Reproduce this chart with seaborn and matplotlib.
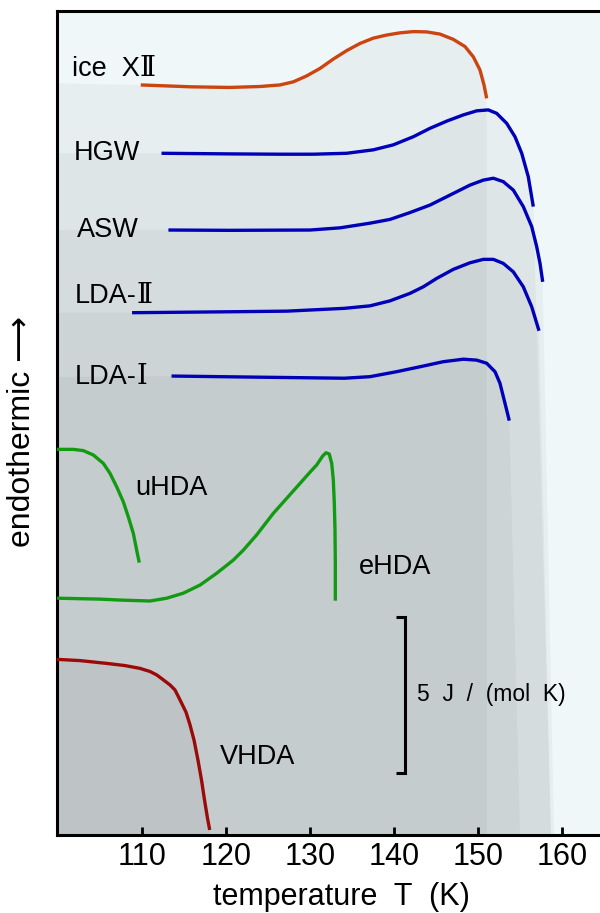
import matplotlib
matplotlib.use("Agg")
import matplotlib.pyplot as plt
import numpy as np
import pandas as pd
import seaborn as sns

# ---------------- data (T in K, signal in J/(mol K), curves offset vertically) ----------------
ice12_T = [109.89, 115.90, 120.46, 124.08, 126.46, 128.05, 129.64, 131.23, 132.81, 134.40,
           135.99, 137.57, 139.17, 140.75, 142.33, 143.93, 145.51, 147.10, 148.49, 149.48,
           150.27, 150.75, 151.07]
ice12_y = [24.04, 23.98, 23.96, 23.99, 24.04, 24.14, 24.33, 24.57, 24.87, 25.14,
           25.37, 25.54, 25.64, 25.71, 25.75, 25.74, 25.67, 25.50, 25.27, 24.94,
           24.52, 24.04, 23.61]

hgw_T = [112.36, 120.46, 126.46, 130.43, 134.40, 137.57, 139.95, 142.33, 144.32, 146.31,
         148.29, 149.88, 151.26, 152.26, 153.45, 154.44, 155.24, 156.02, 156.62]
hgw_y = [21.85, 21.83, 21.82, 21.82, 21.85, 21.96, 22.12, 22.38, 22.65, 22.88,
         23.08, 23.21, 23.24, 23.13, 22.81, 22.38, 21.85, 21.10, 20.14]

asw_T = [113.18, 120.46, 130.04, 133.61, 137.18, 139.56, 141.94, 144.32, 146.70, 149.08,
         150.67, 151.86, 153.05, 154.24, 155.43, 156.43, 157.02, 157.42, 157.74]
asw_y = [19.39, 19.38, 19.39, 19.46, 19.61, 19.73, 19.95, 20.19, 20.51, 20.83,
         20.99, 21.05, 20.94, 20.67, 20.14, 19.50, 18.86, 18.32, 17.73]

lda2_T = [108.85, 120.46, 127.30, 134.13, 137.18, 139.56, 141.94, 143.52, 145.12, 147.10,
          149.08, 150.67, 151.86, 153.05, 154.24, 155.43, 156.43, 157.30]
lda2_y = [16.74, 16.77, 16.79, 16.88, 16.96, 17.12, 17.36, 17.57, 17.84, 18.13,
          18.34, 18.45, 18.45, 18.32, 18.05, 17.57, 16.93, 16.16]

lda1_T = [113.55, 125.02, 134.13, 137.18, 140.36, 143.52, 145.90, 148.29, 149.88, 151.07,
          152.06, 152.65, 153.05, 153.45, 153.76]
lda1_y = [14.71, 14.67, 14.64, 14.69, 14.85, 15.03, 15.17, 15.25, 15.22, 15.12,
          14.85, 14.48, 14.05, 13.62, 13.28]

uhda_T = [99.92, 101.86, 103.05, 104.24, 105.43, 106.23, 107.02, 107.81, 108.40, 109.00,
          109.40, 109.71]
uhda_y = [12.36, 12.36, 12.32, 12.18, 11.91, 11.59, 11.16, 10.68, 10.20, 9.67,
          9.13, 8.73]

ehda_T = [99.92, 105.04, 107.42, 110.99, 112.98, 114.95, 116.94, 118.93, 120.90, 122.10,
          123.69, 125.67, 127.26, 128.85, 130.04, 130.83, 131.55, 131.94, 132.33, 132.62,
          132.81, 132.93, 133.01, 133.05, 133.05]
ehda_y = [7.59, 7.56, 7.53, 7.50, 7.59, 7.75, 8.01, 8.39, 8.81, 9.13,
          9.62, 10.31, 10.79, 11.27, 11.63, 11.86, 12.15, 12.25, 12.21, 11.91,
          11.38, 10.63, 9.78, 8.71, 7.51]

vhda_T = [99.92, 102.65, 105.83, 108.01, 109.80, 110.99, 111.79, 112.54, 113.37, 113.96,
          114.56, 115.27, 115.75, 116.23, 116.70, 117.12, 117.48, 117.83, 118.10]
vhda_y = [5.63, 5.59, 5.50, 5.43, 5.34, 5.24, 5.13, 4.98, 4.81, 4.65,
          4.33, 3.94, 3.53, 3.04, 2.40, 1.76, 1.12, 0.54, 0.16]

# label text split into (Latin part, Roman-numeral part)
curve_labels = [("ice  X", "Ⅱ"), ("HGW", ""), ("ASW", ""), ("LDA-", "Ⅱ"), ("LDA-", "Ⅰ"),
                ("uHDA", ""), ("eHDA", ""), ("VHDA", "")]
xtick_values = [110, 120, 130, 140, 150, 160]
scale_label = "5  J  /  (mol  K)"
x_label = "temperature  T  (K)"
y_label = "endothermic ⟶"

# ---------------- style ----------------
sns.set_theme(style="white")
plt.rcParams["font.family"] = ["Liberation Sans", "DejaVu Sans"]
for k in ["text.color", "axes.labelcolor", "xtick.color", "xtick.labelcolor", "axes.edgecolor"]:
    plt.rcParams[k] = "black"

XMIN, XMAX = 99.88, 164.56
YMIN, YMAX = 0.0, 26.41

fig = plt.figure(figsize=(6.0, 9.13), dpi=100)
fig.patch.set_facecolor("white")
ax = fig.add_axes([56.7 / 600, 78 / 913, 543.3 / 600, 824 / 913])
ax.set_facecolor("#eff7f9")

curves = [
    (ice12_T, ice12_y, "#cc4410"),
    (hgw_T, hgw_y, "#0000b8"),
    (asw_T, asw_y, "#0000b8"),
    (lda2_T, lda2_y, "#0000b8"),
    (lda1_T, lda1_y, "#0000b8"),
    (uhda_T, uhda_y, "#129a12"),
    (ehda_T, ehda_y, "#129a12"),
    (vhda_T, vhda_y, "#9a0a0a"),
]

# translucent shading under curves: (left level, bottom-right T)
shade = {
    0: (24.09, 151.11),
    1: (21.85, 158.73),
    2: (19.39, 159.09),
    3: (16.74, 158.73),
    4: (14.68, 155.04),
    7: (5.63, 118.10),
}
for i, (T, y, _) in enumerate(curves):
    if i in shade:
        lvl, tb = shade[i]
        px = [XMIN] + list(T) + [tb, XMIN]
        py = [lvl] + list(y) + [YMIN, YMIN]
        ax.fill(px, py, color="black", alpha=0.037, lw=0, zorder=1)

for (T, y, col) in curves:
    df = pd.DataFrame({"T": T, "y": y})
    sns.lineplot(data=df, x="T", y="y", sort=False, estimator=None, color=col,
                 linewidth=2.4, ax=ax, zorder=3)
for line in ax.get_lines():
    line.set_solid_capstyle("butt")
    line.set_solid_joinstyle("round")

# curve labels
label_pos = [(101.70, 24.55), (101.86, 21.85), (102.26, 19.39), (101.98, 17.29),
             (101.98, 14.68), (109.20, 11.11), (135.87, 8.60), (119.32, 2.51)]
for (txt, num), (x, y) in zip(curve_labels, label_pos):
    t = ax.text(x, y, txt, fontsize=19.5, ha="left", va="center", zorder=4)
    if num:
        ax.annotate(num, xy=(1, 0), xycoords=t, ha="left", va="bottom",
                    fontsize=19.5, family=["DejaVu Serif", "DejaVu Sans"], zorder=4)

# scale bar
ax.plot([140.3, 141.4, 141.4, 140.3], [7.0, 7.0, 2.0, 2.0], color="black", lw=2.2,
        solid_joinstyle="miter", solid_capstyle="butt", zorder=4)
ax.text(142.77, 4.49, scale_label, fontsize=16.5, ha="left", va="center", zorder=4)

ax.set_xlim(XMIN, XMAX)
ax.set_ylim(YMIN, YMAX)
ax.set_xticks(xtick_values)
ax.set_xticklabels([str(v) for v in xtick_values])
ax.set_yticks([])
ax.tick_params(axis="x", direction="in", length=6, width=2, labelsize=22, pad=5,
               color="black", bottom=True)
for s in ["left", "bottom", "top"]:
    ax.spines[s].set_linewidth(2.2)
    ax.spines[s].set_color("black")
ax.spines["right"].set_visible(False)

ax.set_xlabel(x_label, fontsize=22, va="center")
ax.xaxis.set_label_coords(0.525, -0.0752)
ax.set_ylabel(y_label, fontsize=23, va="center")
ax.yaxis.set_label_coords(-0.064, 0.49)

fig.savefig("out.png", dpi=100, facecolor="white")
